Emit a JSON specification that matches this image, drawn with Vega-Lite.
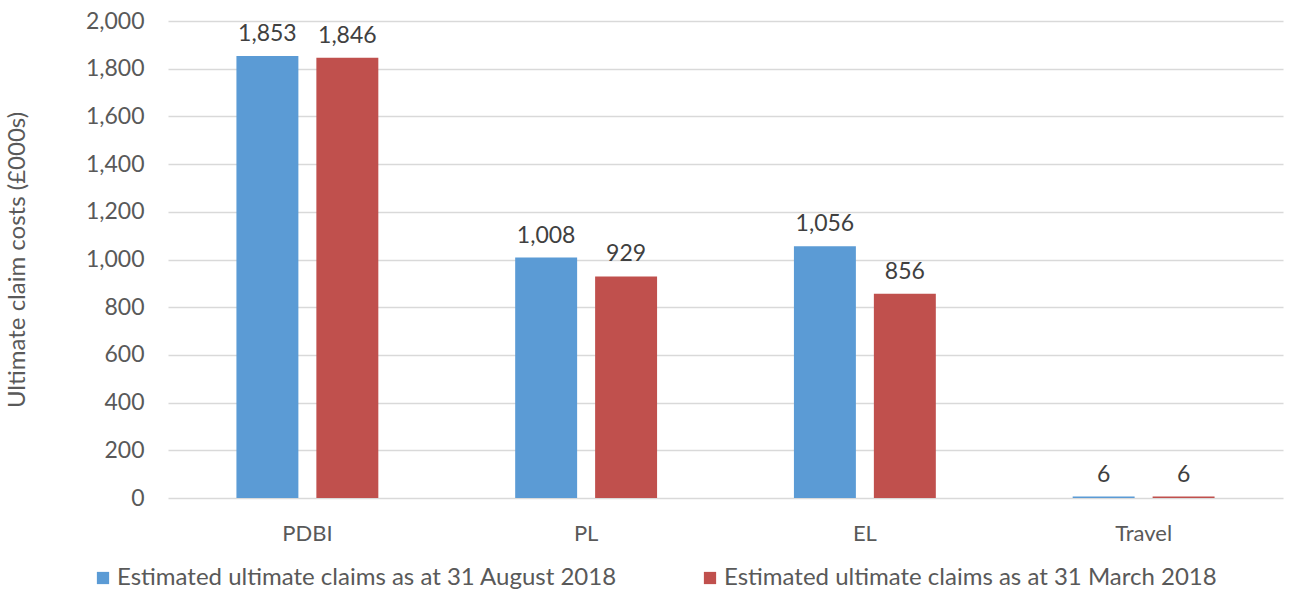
{
  "$schema": "https://vega.github.io/schema/vega-lite/v6.json",
  "width": 1115,
  "height": 477,
  "autosize": {"type": "none"},
  "padding": {"left": 168, "top": 21, "right": 7, "bottom": 94},
  "background": "white",
  "config": {
    "font": "Lato",
    "view": {"stroke": null},
    "axis": {"labelColor": "#595959", "titleColor": "#595959", "labelFont": "Lato", "titleFont": "Lato"}
  },
  "data": {
    "values": [
      {"category": "PDBI", "series": "Estimated ultimate claims as at 31 August 2018", "value": 1853},
      {"category": "PDBI", "series": "Estimated ultimate claims as at 31 March 2018", "value": 1846},
      {"category": "PL", "series": "Estimated ultimate claims as at 31 August 2018", "value": 1008},
      {"category": "PL", "series": "Estimated ultimate claims as at 31 March 2018", "value": 929},
      {"category": "EL", "series": "Estimated ultimate claims as at 31 August 2018", "value": 1056},
      {"category": "EL", "series": "Estimated ultimate claims as at 31 March 2018", "value": 856},
      {"category": "Travel", "series": "Estimated ultimate claims as at 31 August 2018", "value": 6},
      {"category": "Travel", "series": "Estimated ultimate claims as at 31 March 2018", "value": 6}
    ]
  },
  "encoding": {
    "x": {
      "field": "category", "type": "nominal", "sort": ["PDBI", "PL", "EL", "Travel"],
      "scale": {"paddingInner": 0, "paddingOuter": 0},
      "axis": {"title": null, "labelAngle": 0, "labelFontSize": 22, "labelPadding": 25, "ticks": false, "domain": false}
    },
    "xOffset": {
      "field": "series", "type": "nominal",
      "scale": {"paddingInner": 0.225, "paddingOuter": 0.856}
    },
    "y": {
      "field": "value", "type": "quantitative",
      "scale": {"domain": [0, 2000]},
      "axis": {
        "title": "Ultimate claim costs (£000s)", "titleFontSize": 24, "titleFontWeight": "normal", "titlePadding": 56,
        "values": [0, 200, 400, 600, 800, 1000, 1200, 1400, 1600, 1800, 2000],
        "format": ",d", "labelFontSize": 23, "labelPadding": 24,
        "ticks": false, "domain": false, "gridColor": "#D9D9D9", "gridWidth": 1.3
      }
    }
  },
  "layer": [
    {
      "mark": {"type": "bar"},
      "encoding": {
        "color": {
          "field": "series", "type": "nominal",
          "scale": {"range": ["#5B9BD5", "#C0504D"]},
          "legend": {
            "title": null, "orient": "none", "direction": "horizontal",
            "legendX": -77, "legendY": 545,
            "symbolType": "square", "symbolSize": 150, "symbolStrokeWidth": 0,
            "labelFontSize": 24, "labelColor": "#595959", "labelFont": "Lato",
            "labelLimit": 700, "columnPadding": 81, "labelOffset": 2
          }
        }
      }
    },
    {
      "mark": {"type": "text", "baseline": "bottom", "dy": -10, "fontSize": 23, "color": "#404040", "font": "Lato"},
      "encoding": {"text": {"field": "value", "type": "quantitative", "format": ",d"}}
    }
  ]
}
